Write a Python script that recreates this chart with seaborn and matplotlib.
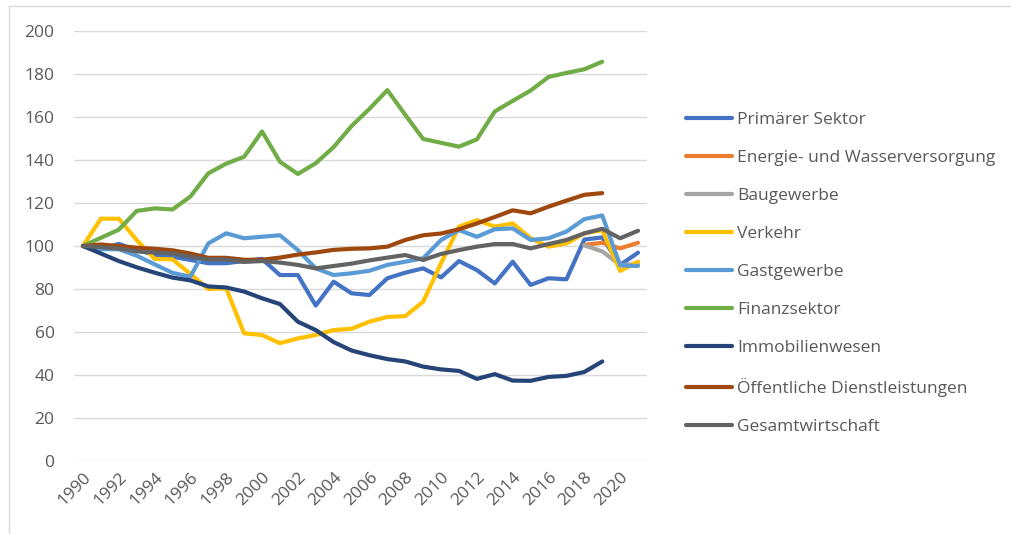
import numpy as np
import pandas as pd
import matplotlib
matplotlib.use("Agg")
import matplotlib.pyplot as plt
from matplotlib.patches import Rectangle
import seaborn as sns

nan = np.nan
years = list(range(1990, 2022))

primaer = [100, 98.5, 101, 98, 96, 95, 93.5, 92, 92, 93, 94, 86.5, 86.5, 72.3, 83.4, 78, 77.2, 85,
           87.6, 89.6, 85.4, 93, 88.8, 82.6, 92.7, 81.9, 85, 84.5, 103, 104, 91.2, 96.9]
energie = [nan] * 28 + [100.5, 101.5, 98.9, 101.5]
bau = [nan] * 28 + [100.3, 97.5, 91.2, 91.5]
verkehr = [100, 112.7, 112.7, 102.8, 94, 93.8, 87, 80, 80.3, 59.4, 58.6, 54.8, 57, 58.6, 60.9, 61.5,
           64.8, 67, 67.4, 74.1, 92, 109, 112, 109, 110.5, 103.6, 99.7, 101.2, 105.9, 107.4, 88.4, 92.7]
gast = [100, 98.5, 98.5, 95.5, 91.5, 87.5, 85.7, 101.2, 105.9, 103.6, 104.3, 105, 98.1, 89.6, 86.5,
        87.3, 88.5, 91.2, 92.7, 94.3, 102.8, 107.4, 104.3, 107.8, 108.2, 102.8, 103.6, 106.7, 112.5,
        114.2, 91, 90.7]
finanz = [100, 103.8, 107.6, 116.3, 117.5, 117, 123, 133.8, 138.3, 141.5, 153.3, 139.2, 133.5, 138.5,
          146, 155.8, 163.8, 172.5, 161, 149.8, 148, 146.2, 149.6, 162.6, 167.5, 172.3, 178.6, 180.5,
          182.2, 185.7, nan, nan]
immobilien = [100, 96.5, 93, 90.1, 87.6, 85.3, 84, 81.2, 80.7, 78.8, 75.7, 73, 64.8, 60.9, 55.3, 51.4,
              49.2, 47.4, 46.3, 43.9, 42.6, 41.9, 38.2, 40.4, 37.4, 37.3, 39.1, 39.6, 41.4, 46.3, nan, nan]
oeffentlich = [100, 100.7, 100, 99.2, 98.7, 98, 96.5, 94.5, 94.5, 93.6, 93.6, 94.6, 96, 97, 98.2, 98.7,
               98.9, 99.7, 102.8, 105, 105.8, 107.8, 110.5, 113.5, 116.6, 115.2, 118.3, 121.1, 123.8,
               124.6, nan, nan]
gesamt = [100, 99.5, 98.8, 97.5, 97, 96.5, 95, 93.7, 93.7, 92.6, 93, 92.3, 91.2, 89.6, 90.7, 91.8,
          93.3, 94.6, 95.8, 93.5, 96.3, 98.1, 99.7, 100.9, 100.9, 98.9, 100.9, 102.8, 105.9, 108,
          103.6, 107.1]

series_names = ["Primärer Sektor", "Energie- und Wasserversorgung", "Baugewerbe", "Verkehr",
                "Gastgewerbe", "Finanzsektor", "Immobilienwesen", "Öffentliche Dienstleistungen",
                "Gesamtwirtschaft"]
series_values = [primaer, energie, bau, verkehr, gast, finanz, immobilien, oeffentlich, gesamt]
colors = ["#4472C4", "#ED7D31", "#A5A5A5", "#FFC000", "#5B9BD5", "#70AD47", "#264478",
          "#9E480E", "#636363"]
x_ticks = list(range(1990, 2021, 2))
y_ticks = list(range(0, 201, 20))

df = pd.DataFrame({name: vals for name, vals in zip(series_names, series_values)})
df["Jahr"] = years
long = df.melt(id_vars="Jahr", var_name="Sektor", value_name="Wert").dropna()

sns.set_theme(style="white")
plt.rcParams["font.family"] = ["Open Sans", "DejaVu Sans"]

fig = plt.figure(figsize=(10.11, 5.34), dpi=100)
ax = fig.add_axes([74 / 1011, 1 - 461 / 534, (647 - 74) / 1011, (461 - 31) / 534])

sns.lineplot(data=long, x="Jahr", y="Wert", hue="Sektor", hue_order=series_names,
             palette=colors, estimator=None, sort=True, linewidth=3.0, ax=ax,
             solid_capstyle="round", solid_joinstyle="round")

ax.set_xlim(1989.5, 2021.5)
ax.set_ylim(0, 200)
ax.set_yticks(y_ticks)
ax.set_xticks(x_ticks)
ax.set_xticklabels([str(t) for t in x_ticks], rotation=45, ha="right", rotation_mode="anchor")
ax.grid(axis="y", color="#D9D9D9", linewidth=1.0)
ax.set_axisbelow(True)
for s in ax.spines.values():
    s.set_visible(False)
ax.tick_params(axis="both", length=0, labelsize=12.5, labelcolor="#595959")
ax.tick_params(axis="x", pad=6)
ax.tick_params(axis="y", pad=14)
ax.set_xlabel("")
ax.set_ylabel("")

handles, labels = ax.get_legend_handles_labels()
ax.legend(handles, labels, loc="upper left", bbox_to_anchor=(686 / 1011, 1 - 112 / 534),
          bbox_transform=fig.transFigure, frameon=False, fontsize=12.5,
          labelcolor="#595959", handlelength=2.65, handletextpad=0.3, labelspacing=1.26,
          borderaxespad=0, borderpad=0)

# chart area border (partially cropped in the reference)
fig.add_artist(Rectangle((8.5 / 1011, -0.1), 1.2, 1 + 0.1 - 6.5 / 534,
                         transform=fig.transFigure, fill=False, edgecolor="#D9D9D9",
                         linewidth=1.0))

fig.savefig("out.png", dpi=100)
